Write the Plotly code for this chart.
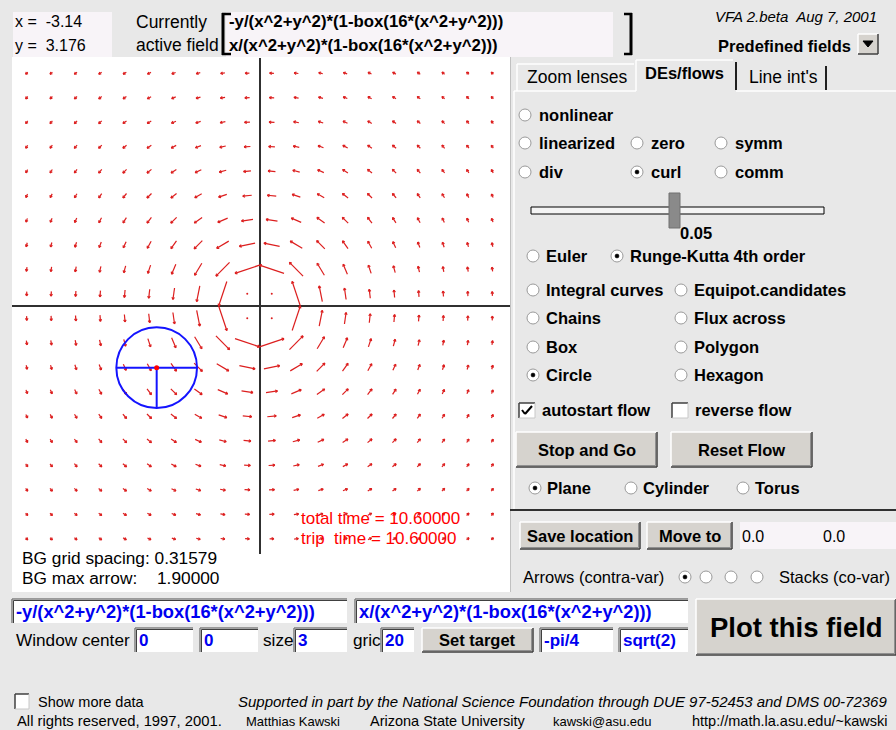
import math
import plotly.graph_objects as go

# ---------------- data ----------------
grid_x = [-3.0, -2.68421, -2.36842, -2.05263, -1.73684, -1.42105, -1.10526, -0.78947,
          -0.47368, -0.15789, 0.15789, 0.47368, 0.78947, 1.10526, 1.42105, 1.73684,
          2.05263, 2.36842, 2.68421, 3.0]
grid_y = [-3.0, -2.68421, -2.36842, -2.05263, -1.73684, -1.42105, -1.10526, -0.78947,
          -0.47368, -0.15789, 0.15789, 0.47368, 0.78947, 1.10526, 1.42105, 1.73684,
          2.05263, 2.36842, 2.68421, 3.0]
field_p_text = "-y/(x^2+y^2)*(1-box(16*(x^2+y^2)))"
field_q_text = "x/(x^2+y^2)*(1-box(16*(x^2+y^2)))"
bg_grid_spacing = 0.31579
bg_max_arrow = 1.90000
flow_circle_center = [-1.325, -0.795]
flow_circle_radius = 0.52
total_time = 10.60000
trip_time = 10.60000
cursor_xy = ["-3.14", "3.176"]
slider_value = "0.05"
window_fields = ["0", "0", "3", "20", "-pi/4", "sqrt(2)"]
move_to = ["0.0", "0.0"]


def box(t):
    return 1.0 if abs(t) <= 1.0 else 0.0


def field(x, y):
    # the active field shown in the chart: (-y, x)/(x^2+y^2) * (1 - box(16 (x^2+y^2)))
    r2 = x * x + y * y
    k = (1.0 - box(16.0 * r2)) / r2
    return -y * k, x * k


# ---------------- page geometry ----------------
W, H = 896, 730
FONT = "Liberation Sans, Arial, sans-serif"
BG = "#e8e8e8"
RED = "#dc1e1e"
BLUE = "#0000f0"

PPU = 77.6            # pixels per unit of the plot
OX, OY = 259.5, 306   # pixel of the origin
PL, PR, PT, PB = 12, 510, 58, 554


def px(x):
    return x / W


def py(y):
    return 1 - y / H


shapes = []
annotations = []


def rect(x0, y0, x1, y1, fill=None, line=None, w=1, layer="above"):
    shapes.append(dict(type="rect", xref="paper", yref="paper",
                       x0=px(x0), x1=px(x1), y0=py(y0), y1=py(y1),
                       fillcolor=fill if fill else "rgba(0,0,0,0)",
                       line=dict(color=line if line else "rgba(0,0,0,0)", width=w if line else 0),
                       layer=layer))


def seg(x0, y0, x1, y1, color="#000", w=1):
    shapes.append(dict(type="line", xref="paper", yref="paper",
                       x0=px(x0), x1=px(x1), y0=py(y0), y1=py(y1),
                       line=dict(color=color, width=w)))


def circ(cx, cy, r, fill=None, line=None, w=1):
    shapes.append(dict(type="circle", xref="paper", yref="paper",
                       x0=px(cx - r), x1=px(cx + r), y0=py(cy - r), y1=py(cy + r),
                       fillcolor=fill if fill else "rgba(0,0,0,0)",
                       line=dict(color=line if line else "rgba(0,0,0,0)", width=w if line else 0)))


def txt(x, y, s, size=17, bold=False, italic=False, color="#000", anchor="left"):
    if bold:
        s = "<b>" + s + "</b>"
    if italic:
        s = "<i>" + s + "</i>"
    annotations.append(dict(x=px(x), y=py(y), xref="paper", yref="paper", text=s,
                            showarrow=False, xanchor=anchor, yanchor="middle",
                            font=dict(family=FONT, size=size, color=color),
                            borderpad=0))


def radio(cx, cy, sel=False):
    circ(cx, cy, 6, fill="white", line="#9a9a9a", w=1)
    shapes.append(dict(type="path", xref="paper", yref="paper",
                       path="M {} {} A 1 1 0 0 1 {} {}".format(px(cx - 4.2), py(cy + 4.2), px(cx + 4.2), py(cy - 4.2)),
                       line=dict(color="rgba(0,0,0,0)", width=0)))
    if sel:
        circ(cx, cy, 2, fill="#000", line="#000", w=0.5)


def checkbox(x0, y0, x1, y1, checked=False):
    rect(x0, y0, x1, y1, fill="white", line=None)
    seg(x0, y0, x1, y0, "#404040", 1.5)
    seg(x0, y0, x0, y1, "#404040", 1.5)
    seg(x1, y0, x1, y1, "#c8c8c8", 1)
    seg(x0, y1, x1, y1, "#c8c8c8", 1)
    if checked:
        seg(x0 + 3, y0 + 7, x0 + 6, y0 + 11, "#000", 2)
        seg(x0 + 6, y0 + 11, x1 - 3, y0 + 3, "#000", 2)


def button(x0, y0, x1, y1, label, size=16):
    rect(x0, y0, x1, y1, fill="#d6d3ce")
    seg(x0, y0, x1, y0, "#ffffff", 1.5)
    seg(x0, y0, x0, y1, "#ffffff", 1.5)
    seg(x0, y1, x1, y1, "#404040", 1.5)
    seg(x1, y0, x1, y1, "#404040", 1.5)
    seg(x0 + 1, y1 - 1.5, x1 - 1.5, y1 - 1.5, "#909090", 1)
    seg(x1 - 1.5, y0 + 1, x1 - 1.5, y1 - 1.5, "#909090", 1)
    txt((x0 + x1) / 2, (y0 + y1) / 2, label, size=size, bold=True, anchor="center")


def tfield(x0, y0, x1, y1, fill="white"):
    rect(x0, y0, x1, y1, fill=fill)
    seg(x0, y0, x1, y0, "#808080", 1.5)
    seg(x0, y0, x0, y1, "#808080", 1.5)
    seg(x0 + 1.5, y0 + 1.5, x1, y0 + 1.5, "#404040", 1)
    seg(x0 + 1.5, y0 + 1.5, x0 + 1.5, y1, "#404040", 1)


# ---------------- vector field traces ----------------
ax_x, ax_y, dot_x, dot_y = [], [], [], []
head = 2.5 / PPU
for gx in grid_x:
    for gy in grid_y:
        u, v = field(gx, gy)
        m = math.hypot(u, v)
        if m == 0:
            dot_x.append(gx)
            dot_y.append(gy)
            continue
        L = m / bg_max_arrow * bg_grid_spacing
        dx, dy = u / m, v / m
        x0, y0 = gx - dx * L / 2, gy - dy * L / 2
        x1, y1 = gx + dx * L / 2, gy + dy * L / 2
        ax_x += [x0, x1, None]
        ax_y += [y0, y1, None]
        for sgn in (1, -1):
            a = math.radians(150 * sgn)
            hx = dx * math.cos(a) - dy * math.sin(a)
            hy = dx * math.sin(a) + dy * math.cos(a)
            ax_x += [x1, x1 + head * hx, None]
            ax_y += [y1, y1 + head * hy, None]

fig = go.Figure()
fig.add_trace(go.Scatter(x=ax_x, y=ax_y, mode="lines", line=dict(color=RED, width=1.2),
                         hoverinfo="skip", showlegend=False))
fig.add_trace(go.Scatter(x=dot_x, y=dot_y, mode="markers",
                         marker=dict(color=RED, size=2), hoverinfo="skip", showlegend=False))

# flowed circle (blue) with its diameter and radius, red centre
cx, cy = flow_circle_center
r = flow_circle_radius
fig.add_shape(type="circle", xref="x", yref="y", x0=cx - r, x1=cx + r, y0=cy - r, y1=cy + r,
              line=dict(color="#1414ff", width=2))
fig.add_trace(go.Scatter(x=[cx - r, cx + r, None, cx, cx], y=[cy, cy, None, cy, cy - r],
                         mode="lines", line=dict(color="#1414ff", width=2),
                         hoverinfo="skip", showlegend=False))
fig.add_trace(go.Scatter(x=[cx], y=[cy], mode="markers", marker=dict(color="#ff0000", size=5),
                         hoverinfo="skip", showlegend=False))

# ---------------- page furniture ----------------
# white canvas of the plot
rect(PL, 57, PR, 592, fill="white", layer="below")
seg(PR + 0.5, 57, PR + 0.5, 592, "#c0c0c0", 1)

# top header
rect(13, 12, 112, 57, fill="#f8f4f8")
txt(14, 22, "x =  " + cursor_xy[0], size=16)
txt(14, 45, "y =  " + cursor_xy[1], size=16)
txt(135, 22, "Currently", size=17.5)
txt(135, 45, "active field", size=17.5)
rect(226, 12, 613, 57, fill="#f8f4f8")
seg(223, 13, 223, 55, "#000", 3)
seg(222, 14, 231, 14, "#000", 2.5)
seg(222, 54, 231, 54, "#000", 2.5)
seg(631, 13, 631, 55, "#000", 3)
seg(624, 14, 632, 14, "#000", 2.5)
seg(624, 54, 632, 54, "#000", 2.5)
txt(228, 22, field_p_text, size=16.8, bold=True)
txt(228, 45, field_q_text, size=16.8, bold=True)
txt(878, 16, "VFA 2.beta  Aug 7, 2001", size=15, italic=True, anchor="right")
txt(852, 46, "Predefined fields", size=16.5, bold=True, anchor="right")
rect(858, 34, 878, 54, fill="#d6d3ce")
seg(858, 34, 878, 34, "#fff", 1.5)
seg(858, 34, 858, 54, "#fff", 1.5)
seg(858, 54, 878, 54, "#404040", 1.5)
seg(878, 34, 878, 54, "#404040", 1.5)
shapes.append(dict(type="path", xref="paper", yref="paper",
                   path="M {} {} L {} {} L {} {} Z".format(px(863), py(41), px(873), py(41), px(868), py(47)),
                   fillcolor="#000", line=dict(color="#000", width=1)))

# tabs
seg(517, 64, 634, 64, "#ffffff", 1.5)
seg(517, 64, 517, 91, "#ffffff", 1.5)
seg(636, 60, 733, 60, "#ffffff", 1.5)
seg(636, 60, 636, 91, "#ffffff", 1.5)
seg(736, 62, 736, 90, "#202020", 2)
seg(826, 66, 826, 90, "#202020", 2)
txt(526, 77, "Zoom lenses", size=17.5)
txt(644, 73, "DEs/flows", size=16.5, bold=True)
txt(748, 77, "Line int's", size=17.5)
seg(514, 91, 636, 91, "#ffffff", 1.5)
seg(736, 91, 896, 91, "#ffffff", 1.5)
seg(514, 91, 514, 509, "#ffffff", 1.5)
seg(510, 510, 896, 510, "#303030", 2)

LB = 16.5  # bold label size
# radio rows
radio(525, 115)
txt(538, 115, "nonlinear", size=LB, bold=True)
for (rx, lab, sel) in [(525, "linearized", False), (637, "zero", False), (721, "symm", False)]:
    radio(rx, 143, sel)
    txt(rx + 13, 143, lab, size=LB, bold=True)
for (rx, lab, sel) in [(525, "div", False), (637, "curl", True), (721, "comm", False)]:
    radio(rx, 172, sel)
    txt(rx + 13, 172, lab, size=LB, bold=True)

# slider
rect(531, 207, 824, 214, fill="#f4f4f4", line="#000", w=1)
rect(669, 193, 680, 228, fill="#8a8a8a", line="#707070", w=1)
txt(679, 233, slider_value, size=LB, bold=True)

radio(533, 256)
txt(545, 256, "Euler", size=LB, bold=True)
radio(617, 256, True)
txt(629, 256, "Runge-Kutta 4th order", size=LB, bold=True)

left_opts = [("Integral curves", False), ("Chains", False), ("Box", False), ("Circle", True)]
right_opts = ["Equipot.candidates", "Flux across", "Polygon", "Hexagon"]
row_y = [290, 318, 347, 375]
for (lab, sel), rlab, yy in zip(left_opts, right_opts, row_y):
    radio(533, yy, sel)
    txt(545, yy, lab, size=LB, bold=True)
    radio(681, yy)
    txt(693, yy, rlab, size=LB, bold=True)

checkbox(519, 403, 535, 418, True)
txt(541, 410, "autostart flow", size=LB, bold=True)
checkbox(672, 403, 688, 418, False)
txt(694, 410, "reverse flow", size=LB, bold=True)

button(516, 432, 657, 467, "Stop and Go", size=16.5)
button(671, 432, 812, 467, "Reset Flow", size=16.5)

for (rx, lab, sel) in [(535, "Plane", True), (631, "Cylinder", False), (743, "Torus", False)]:
    radio(rx, 488, sel)
    txt(rx + 11, 488, lab, size=LB, bold=True)

button(520, 522, 640, 549, "Save location", size=16.5)
button(647, 522, 732, 549, "Move to", size=16.5)
rect(740, 522, 896, 549, fill="#f8f4f8")
txt(741, 536, move_to[0], size=16)
txt(822, 536, move_to[1], size=16)

txt(522, 577, "Arrows (contra-var)", size=16.5)
for i, rx in enumerate([685, 706, 731, 757]):
    radio(rx, 577, i == 0)
txt(778, 577, "Stacks (co-var)", size=16.5)

# plot-side texts
txt(300, 518, "total time = %.5f" % total_time, size=17, color="#ff0000")
txt(300, 538, "trip  time = %.5f" % trip_time, size=17, color="#ff0000")
txt(21, 558, "BG grid spacing: %.5f" % bg_grid_spacing, size=17.3)
txt(21, 578, "BG max arrow:", size=17.3)
txt(156, 578, "%.5f" % bg_max_arrow, size=17.3)

# bottom input rows
tfield(12, 599, 347, 623)
txt(15, 611, field_p_text, size=18.3, bold=True, color=BLUE)
tfield(355, 599, 688, 623)
txt(358, 611, field_q_text, size=18.3, bold=True, color=BLUE)
button(696, 599, 896, 655, "Plot this field", size=27.5)

txt(15, 640, "Window center", size=17.2)
tfield(135, 628, 193, 652)
txt(138, 640, window_fields[0], size=17, bold=True, color=BLUE)
tfield(200, 628, 258, 652)
txt(203, 640, window_fields[1], size=17, bold=True, color=BLUE)
txt(262, 640, "size", size=17.2)
tfield(294, 628, 347, 652)
txt(297, 640, window_fields[2], size=17, bold=True, color=BLUE)
txt(352, 640, "gric", size=17.2)
tfield(381, 628, 414, 652)
txt(384, 640, window_fields[3], size=17, bold=True, color=BLUE)
button(422, 628, 533, 652, "Set target", size=16.5)
tfield(540, 628, 613, 652)
txt(543, 640, window_fields[4], size=17, bold=True, color=BLUE)
tfield(619, 628, 688, 652)
txt(622, 640, window_fields[5], size=17, bold=True, color=BLUE)

# footer
checkbox(15, 694, 29, 709, False)
txt(37, 702, "Show more data", size=14.5)
txt(888, 701, "Supported in part by the National Science Foundation through DUE 97-52453 and DMS 00-72369",
    size=15, italic=True, anchor="right")
txt(16, 721, "All rights reserved, 1997, 2001.", size=14.8)
txt(245, 721, "Matthias Kawski", size=13)
txt(369, 721, "Arizona State University", size=14.5)
txt(552, 721, "kawski@asu.edu", size=13)
txt(888, 721, "http://math.la.asu.edu/~kawski", size=14.5, anchor="right")

fig.update_layout(
    width=W, height=H, margin=dict(l=0, r=0, t=0, b=0),
    paper_bgcolor=BG, plot_bgcolor="white",
    shapes=fig.layout.shapes + tuple(shapes) if fig.layout.shapes else shapes,
    annotations=annotations,
    showlegend=False, hovermode=False,
    xaxis=dict(domain=[PL / W, PR / W], range=[(PL - OX) / PPU, (PR - OX) / PPU],
               showgrid=False, zeroline=True, zerolinecolor="#303030", zerolinewidth=2,
               showticklabels=False, ticks="", fixedrange=True),
    yaxis=dict(domain=[1 - PB / H, 1 - PT / H], range=[(OY - PB) / PPU, (OY - PT) / PPU],
               showgrid=False, zeroline=True, zerolinecolor="#303030", zerolinewidth=2,
               showticklabels=False, ticks="", fixedrange=True),
)

fig.write_html("out.html", config={"displayModeBar": False},
               post_script="document.body.style.margin='0px';document.body.style.overflow='hidden';")
